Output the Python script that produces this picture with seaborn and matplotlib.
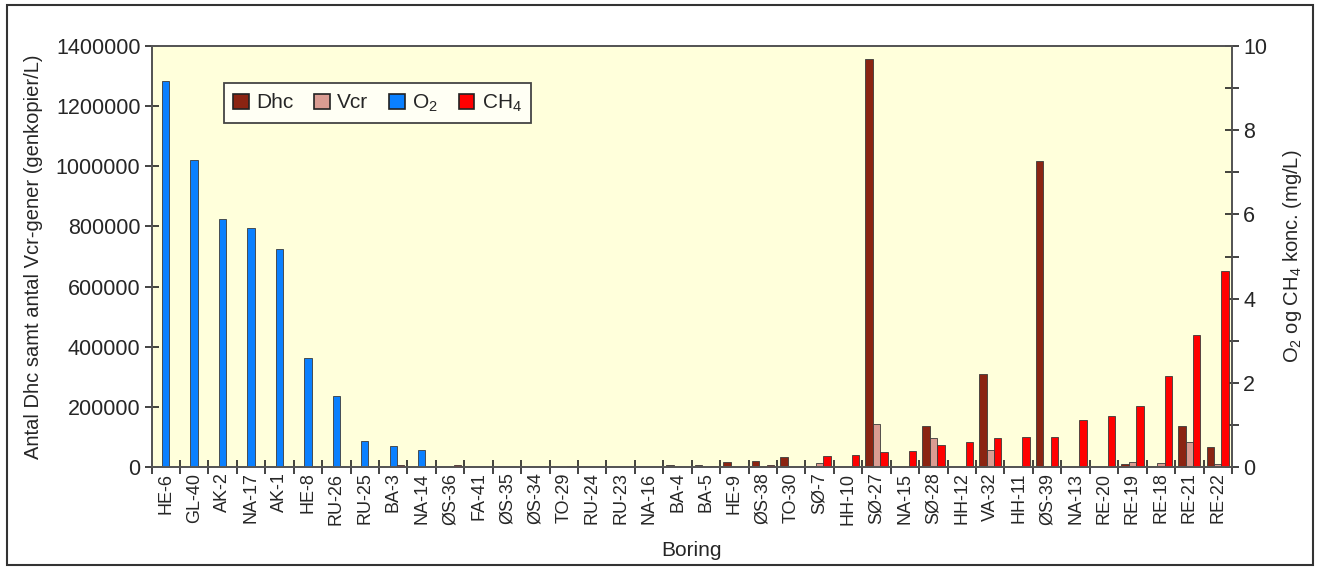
import numpy as np
import pandas as pd
import matplotlib
matplotlib.use("Agg")
import matplotlib.pyplot as plt
import seaborn as sns
from matplotlib.patches import Patch, Rectangle
from matplotlib.ticker import FuncFormatter, MultipleLocator

borings = ["HE-6", "GL-40", "AK-2", "NA-17", "AK-1", "HE-8", "RU-26", "RU-25", "BA-3", "NA-14",
           "ØS-36", "FA-41", "ØS-35", "ØS-34", "TO-29", "RU-24", "RU-23", "NA-16", "BA-4", "BA-5",
           "HE-9", "ØS-38", "TO-30", "SØ-7", "HH-10", "SØ-27", "NA-15", "SØ-28", "HH-12", "VA-32",
           "HH-11", "ØS-39", "NA-13", "RE-20", "RE-19", "RE-18", "RE-21", "RE-22"]

dhc = [0, 0, 0, 0, 0, 0, 0, 0, 0, 0,
       0, 0, 0, 0, 0, 0, 0, 0, 6000, 5000,
       18000, 20000, 34000, 3000, 0, 1358000, 0, 137000, 0, 309000,
       0, 1017000, 0, 0, 11000, 0, 137000, 68000]
vcr = [0, 0, 0, 0, 0, 0, 0, 0, 0, 0,
       0, 0, 0, 0, 0, 0, 0, 0, 3000, 0,
       0, 2000, 0, 14000, 0, 143000, 0, 98000, 0, 57000,
       0, 0, 0, 0, 15700, 12000, 84500, 11000]
o2 = [9.18, 7.29, 5.88, 5.67, 5.19, 2.60, 1.69, 0.61, 0.50, 0.41,
      0, 0, 0, 0, 0, 0, 0, 0, 0, 0,
      0, 0, 0, 0, 0, 0, 0, 0, 0, 0,
      0, 0, 0, 0, 0, 0, 0, 0]
ch4 = [0, 0, 0, 0, 0, 0, 0, 0, 0.05, 0,
       0.05, 0, 0, 0.01, 0.02, 0, 0, 0, 0, 0.03,
       0, 0.04, 0.01, 0.26, 0.29, 0.365, 0.38, 0.525, 0.60, 0.685,
       0.716, 0.716, 1.115, 1.20, 1.456, 2.17, 3.14, 4.66]

colors = {"Dhc": "#8B2412", "Vcr": "#DA9C92", "O2": "#0A80FF", "CH4": "#FF0000", "pad": "#FFFFFF"}

n = len(borings)
left_df = pd.DataFrame({"Boring": borings * 2, "value": dhc + vcr,
                        "serie": ["Dhc"] * n + ["Vcr"] * n})
right_df = pd.DataFrame({"Boring": borings * 2, "value": o2 + ch4,
                         "serie": ["O2"] * n + ["CH4"] * n})

sns.set_theme(style="ticks")
plt.rcParams["font.family"] = ["Liberation Sans", "DejaVu Sans"]
plt.rcParams["mathtext.fontset"] = "custom"
plt.rcParams["mathtext.rm"] = "Liberation Sans"

fig = plt.figure(figsize=(13.2, 5.7), dpi=100)
fig.patch.set_facecolor("white")
ax = fig.add_axes([0.1148, 0.1807, 0.9333 - 0.1148, 0.9193 - 0.1807])
ax.set_facecolor("#FFFFDB")

bar_kw = dict(x="Boring", y="value", hue="serie", order=borings, width=0.78,
              saturation=1, errorbar=None, legend=False, edgecolor="#3a3a3a",
              linewidth=0.6, palette=colors)
sns.barplot(data=left_df, hue_order=["Dhc", "Vcr", "pad"], ax=ax, **bar_kw)
ax2 = ax.twinx()
sns.barplot(data=right_df, hue_order=["pad", "O2", "CH4"], ax=ax2, **bar_kw)

for a in (ax, ax2):
    a.set_xlim(-0.5, n - 0.5)
    a.set_xticks(np.arange(n + 1) - 0.5)
    a.set_xticklabels([])
    a.set_xticks(np.arange(n), labels=borings, minor=True)
    a.tick_params(axis="x", which="major", direction="inout", length=10, width=1.2, color="#222")
    a.tick_params(axis="x", which="minor", length=0, labelsize=13, rotation=90, pad=4)
    for s in a.spines.values():
        s.set_visible(True)
        s.set_color("#555555")
        s.set_linewidth(1.3)

ax.set_ylim(0, 1400000)
ax.yaxis.set_major_locator(MultipleLocator(200000))
ax.yaxis.set_major_formatter(FuncFormatter(lambda v, p: f"{int(v)}"))
ax.tick_params(axis="y", direction="inout", length=10, width=1.2, color="#222", labelsize=15.5, pad=3)

ax2.set_ylim(0, 10)
ax2.yaxis.set_major_locator(MultipleLocator(2))
ax2.yaxis.set_minor_locator(MultipleLocator(1))
ax2.tick_params(axis="y", which="both", direction="inout", length=10, width=1.2, color="#222",
                labelsize=15.5, pad=3)
ax2.tick_params(axis="x", which="minor", labelbottom=False)

ax.set_xlabel("Boring", fontsize=15, labelpad=12)
ax.set_ylabel("Antal Dhc samt antal Vcr-gener (genkopier/L)", fontsize=14.5, labelpad=9)
ax2.set_ylabel(r"O$_2$ og CH$_4$ konc. (mg/L)", fontsize=14.5, labelpad=10)

handles = [Patch(facecolor=colors[k], edgecolor="#222", linewidth=1.2) for k in ["Dhc", "Vcr", "O2", "CH4"]]
labels = ["Dhc", "Vcr", r"O$_2$", r"CH$_4$"]
leg = ax2.legend(handles, labels, loc="upper left", bbox_to_anchor=(0.067, 0.912), ncol=4,
                 fontsize=15, frameon=True, fancybox=False, edgecolor="#444444",
                 facecolor="#FFFFF4", framealpha=1, handlelength=0.75, handleheight=0.75,
                 handletextpad=0.35, columnspacing=1.0, borderpad=0.45, borderaxespad=0)
leg.get_frame().set_linewidth(1.3)

fig.patches.append(Rectangle((0.005, 0.008), 0.99, 0.984, transform=fig.transFigure,
                             fill=False, edgecolor="#333333", linewidth=1.5))

fig.savefig("out.png", dpi=100, facecolor="white")
